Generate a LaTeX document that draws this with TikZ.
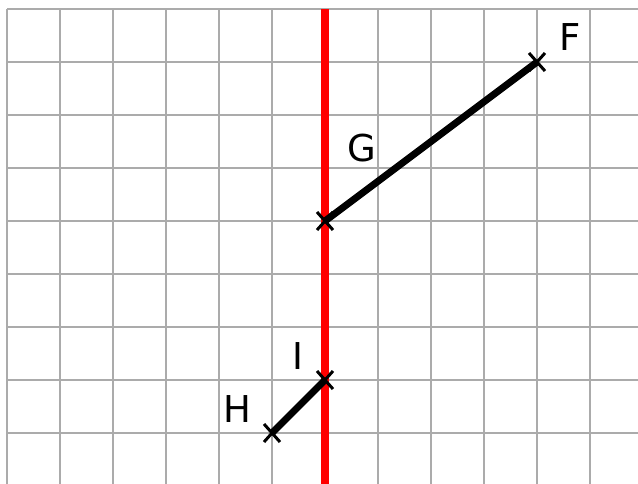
\documentclass[tikz,border=0pt]{standalone}
\usepackage{fontspec}
\setmainfont{DejaVu Sans}
\begin{document}
\begin{tikzpicture}[x=1pt,y=-1pt,
  gridline/.style={draw=black!33,line width=2.6pt},
  mirror/.style={draw=red,line width=7.5pt},
  seg/.style={draw=black,line width=7pt},
  lbl/.style={font=\fontsize{37}{40}\selectfont,inner sep=0pt},
  pt/.style={inner sep=0pt,minimum size=0pt}]
\useasboundingbox (0,0) rectangle (638,483);
\fill[white] (0,0) rectangle (638,483);
\begin{scope}
\clip (0,0) rectangle (638,483);
\foreach \x in {7,60,113,166,219,272,378,431,484,537,590}
  \draw[gridline] (\x,9) -- (\x,490);
\foreach \y in {9,62,115,168,221,274,327,380,433}
  \draw[gridline] (7,\y) -- (645,\y);
\coordinate (top) at (325,9);
\coordinate (bot) at (325,490);
\draw[mirror] (top) -- (bot);
\end{scope}
\node[pt] (F) at (537,62) {};
\node[pt] (G) at (325,221) {};
\node[pt] (H) at (272,433) {};
\node[pt] (I) at (325,380) {};
\draw[seg] (F.center) -- (G.center);
\draw[seg] (H.center) -- (I.center);
\foreach \p in {F,G,H,I}{
  \draw[line width=3pt] ([shift={(-8,-9)}]\p.center) -- ([shift={(8,9)}]\p.center);
  \draw[line width=3pt] ([shift={(-8,9)}]\p.center) -- ([shift={(8,-9)}]\p.center);
}
\node[lbl] (lF) at (570,37) {F};
\node[lbl] (lG) at (362,148) {G};
\node[lbl] (lH) at (237,409) {H};
\node[lbl] (lI) at (298,356) {I};
\end{tikzpicture}
\end{document}
